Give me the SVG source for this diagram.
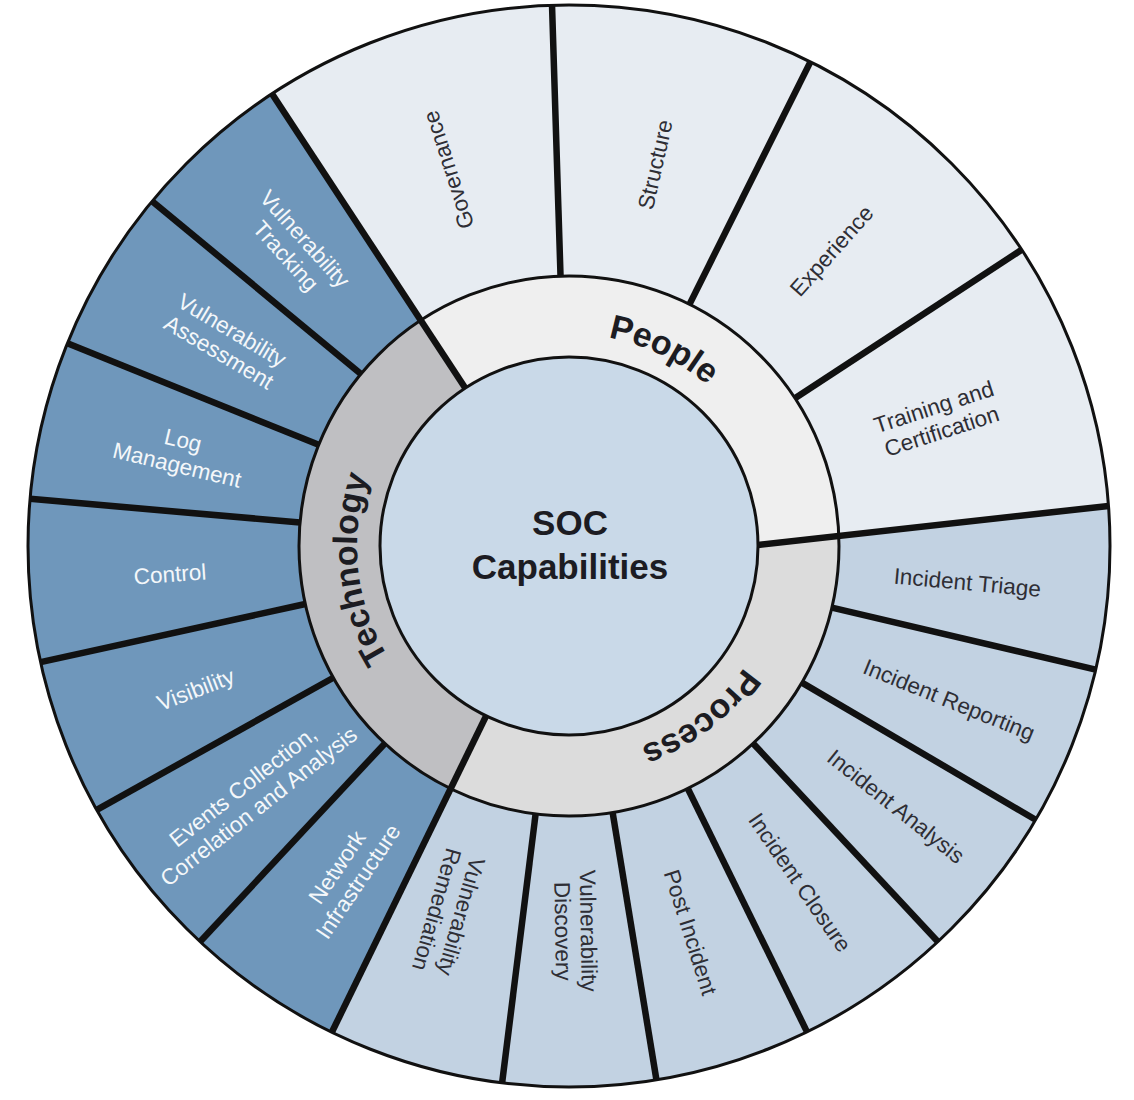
<svg xmlns="http://www.w3.org/2000/svg" width="1134" height="1100" viewBox="0 0 1134 1100">
<style>
.ppl{fill:#e7ecf2}
.prc{fill:#c2d2e2}
.tec{fill:#6f97bb}
.lbl{font-family:"Liberation Sans",Arial,Helvetica,sans-serif;font-size:22.5px;text-anchor:middle}
.dk{fill:#2e2e35}
.wh{fill:#f4f7fa}
.ringlbl{font-family:"Liberation Sans",Arial,Helvetica,sans-serif;font-weight:bold;font-size:34px;fill:#1c1c22}
.div{stroke:#111;stroke-width:6.5;fill:none}
.outline{fill:none;stroke:#111;stroke-width:3}
</style>
<defs>
<path id="arcPeople" d="M396.84,422.29 A212 212 0 0 1 773.09,603.37"/>
<path id="arcTech" d="M555.32,757.56 A212 212 0 0 1 509.5,342.52"/>
<path id="arcProcess" d="M757.93,447.65 A213 213 0 0 1 425.1,703.04"/>
</defs>
<rect width="1134" height="1100" fill="#ffffff"/>

<!-- People segments -->
<g id="governance"><path class="ppl" d="M420.76,320.33 L271.98,93.83 A541 541 0 0 1 552.01,5.27 L560.52,276.13 A270 270 0 0 0 420.76,320.33 Z"/>
<text class="lbl dk" transform="translate(448.25,169.91) rotate(-107.8)" y="8">Governance</text></g>
<g id="structure"><path class="ppl" d="M560.52,276.13 L552.01,5.27 A541 541 0 0 1 810.39,61.84 L689.47,304.37 A270 270 0 0 0 560.52,276.13 Z"/>
<text class="lbl dk" transform="translate(654.96,164.57) rotate(-77.3)" y="8">Structure</text></g>
<g id="experience"><path class="ppl" d="M689.47,304.37 L810.39,61.84 A541 541 0 0 1 1021.69,249.77 L794.93,398.16 A270 270 0 0 0 689.47,304.37 Z"/>
<text class="lbl dk" transform="translate(831.38,250.73) rotate(-48.35)" y="8">Experience</text></g>
<g id="training"><path class="ppl" d="M794.93,398.16 L1021.69,249.77 A541 541 0 0 1 1108.5,505.9 L838.8,536.1 A270 270 0 0 0 794.93,398.16 Z"/>
<text class="lbl dk" transform="translate(937.75,419.03) rotate(-18)"><tspan x="0" y="-5">Training and</tspan><tspan x="0" y="20.5">Certification</tspan></text></g>

<!-- Process segments -->
<g id="incident-triage"><path class="prc" d="M838.8,536.1 L1108.5,505.9 A541 541 0 0 1 1095.71,669.54 L831.87,607.65 A270 270 0 0 0 838.8,536.1 Z"/>
<text class="lbl dk" transform="translate(967.35,582.25) rotate(5.2)" y="8">Incident Triage</text></g>
<g id="incident-reporting"><path class="prc" d="M831.87,607.65 L1095.71,669.54 A541 541 0 0 1 1035.62,819.76 L801.88,682.63 A270 270 0 0 0 831.87,607.65 Z"/>
<text class="lbl dk" transform="translate(949.14,699.59) rotate(22)" y="8">Incident Reporting</text></g>
<g id="incident-analysis"><path class="prc" d="M801.88,682.63 L1035.62,819.76 A541 541 0 0 1 937.96,941.66 L753.14,743.46 A270 270 0 0 0 801.88,682.63 Z"/>
<text class="lbl dk" transform="translate(896.13,806.21) rotate(38.5)" y="8">Incident Analysis</text></g>
<g id="incident-closure"><path class="prc" d="M753.14,743.46 L937.96,941.66 A541 541 0 0 1 807.01,1031.83 L687.78,788.47 A270 270 0 0 0 753.14,743.46 Z"/>
<text class="lbl dk" transform="translate(800.1,882.25) rotate(55.5)" y="8">Incident Closure</text></g>
<g id="post-incident"><path class="prc" d="M687.78,788.47 L807.01,1031.83 A541 541 0 0 1 656.43,1079.89 L612.63,812.45 A270 270 0 0 0 687.78,788.47 Z"/>
<text class="lbl dk" transform="translate(690.79,932.26) rotate(72.5)" y="8">Post Incident</text></g>
<g id="vulnerability-discovery"><path class="prc" d="M612.63,812.45 L656.43,1079.89 A541 541 0 0 1 502.13,1082.85 L535.63,813.93 A270 270 0 0 0 612.63,812.45 Z"/>
<text class="lbl dk" transform="translate(575.72,930.94) rotate(89)"><tspan x="0" y="-5">Vulnerability</tspan><tspan x="0" y="20.5">Discovery</tspan></text></g>
<g id="vulnerability-remediation"><path class="prc" d="M535.63,813.93 L502.13,1082.85 A541 541 0 0 1 331.84,1032.25 L450.64,788.67 A270 270 0 0 0 535.63,813.93 Z"/>
<text class="lbl dk" transform="translate(449,913) rotate(106)"><tspan x="0" y="-5">Vulnerability</tspan><tspan x="0" y="20.5">Remediation</tspan></text></g>

<!-- Technology segments -->
<g id="network-infrastructure"><path class="tec" d="M450.64,788.67 L331.84,1032.25 A541 541 0 0 1 200.04,941.66 L384.86,743.46 A270 270 0 0 0 450.64,788.67 Z"/>
<text class="lbl wh" transform="translate(347.56,874.3) rotate(-56)"><tspan x="0" y="-5">Network</tspan><tspan x="0" y="20.5">Infrastructure</tspan></text></g>
<g id="events-collection"><path class="tec" d="M384.86,743.46 L200.04,941.66 A541 541 0 0 1 96.76,809.93 L333.32,677.72 A270 270 0 0 0 384.86,743.46 Z"/>
<text class="lbl wh" transform="translate(250.74,796.46) rotate(-38.2)"><tspan x="0" y="-5">Events Collection,</tspan><tspan x="0" y="20.5">Correlation and Analysis</tspan></text></g>
<g id="visibility"><path class="tec" d="M333.32,677.72 L96.76,809.93 A541 541 0 0 1 40.62,662.17 L305.3,603.98 A270 270 0 0 0 333.32,677.72 Z"/>
<text class="lbl wh" transform="translate(195.57,689.35) rotate(-21)" y="8">Visibility</text></g>
<g id="control"><path class="tec" d="M305.3,603.98 L40.62,662.17 A541 541 0 0 1 30.06,498.85 L300.03,522.47 A270 270 0 0 0 305.3,603.98 Z"/>
<text class="lbl wh" transform="translate(169.97,573.9) rotate(-4)" y="8">Control</text></g>
<g id="log-management"><path class="tec" d="M300.03,522.47 L30.06,498.85 A541 541 0 0 1 67.4,343.34 L318.66,444.86 A270 270 0 0 0 300.03,522.47 Z"/>
<text class="lbl wh" transform="translate(180.05,452.62) rotate(13.5)"><tspan x="0" y="-5">Log</tspan><tspan x="0" y="20.5">Management</tspan></text></g>
<g id="vulnerability-assessment"><path class="tec" d="M318.66,444.86 L67.4,343.34 A541 541 0 0 1 152.15,201.16 L360.96,373.9 A270 270 0 0 0 318.66,444.86 Z"/>
<text class="lbl wh" transform="translate(225.42,341.14) rotate(30.8)"><tspan x="0" y="-5">Vulnerability</tspan><tspan x="0" y="20.5">Assessment</tspan></text></g>
<g id="vulnerability-tracking"><path class="tec" d="M360.96,373.9 L152.15,201.16 A541 541 0 0 1 271.98,93.83 L420.76,320.33 A270 270 0 0 0 360.96,373.9 Z"/>
<text class="lbl wh" transform="translate(295.39,247.4) rotate(48)"><tspan x="0" y="-5">Vulnerability</tspan><tspan x="0" y="20.5">Tracking</tspan></text></g>

<!-- Category ring -->
<g id="people"><path fill="#efefef" d="M465.24,388.03 L420.76,320.33 A270 270 0 0 1 838.8,536.1 L758,545 A189 189 0 0 0 465.24,388.03 Z"/>
<text class="ringlbl"><textPath href="#arcPeople" startOffset="50%" text-anchor="middle">People</textPath></text></g>
<g id="process"><path fill="#dcdcdc" d="M758,545 L838.8,536.1 A270 270 0 0 1 450.64,788.67 L486.15,715.87 A189 189 0 0 0 758,545 Z"/>
<text class="ringlbl"><textPath href="#arcProcess" startOffset="50%" text-anchor="middle">Process</textPath></text></g>
<g id="technology"><path fill="#bfbfc2" d="M486.15,715.87 L450.64,788.67 A270 270 0 0 1 420.76,320.33 L465.24,388.03 A189 189 0 0 0 486.15,715.87 Z"/>
<text class="ringlbl"><textPath href="#arcTech" startOffset="50%" text-anchor="middle">Technology</textPath></text></g>

<!-- Dividers -->
<g id="connectors" class="div">
<line x1="560.52" y1="276.13" x2="552.01" y2="5.27"/>
<line x1="689.47" y1="304.37" x2="810.39" y2="61.84"/>
<line x1="794.93" y1="398.16" x2="1021.69" y2="249.77"/>
<line x1="758" y1="545" x2="1108.5" y2="505.9"/>
<line x1="831.87" y1="607.65" x2="1095.71" y2="669.54"/>
<line x1="801.88" y1="682.63" x2="1035.62" y2="819.76"/>
<line x1="753.14" y1="743.46" x2="937.96" y2="941.66"/>
<line x1="687.78" y1="788.47" x2="807.01" y2="1031.83"/>
<line x1="612.63" y1="812.45" x2="656.43" y2="1079.89"/>
<line x1="535.63" y1="813.93" x2="502.13" y2="1082.85"/>
<line x1="486.15" y1="715.87" x2="331.84" y2="1032.25"/>
<line x1="384.86" y1="743.46" x2="200.04" y2="941.66"/>
<line x1="333.32" y1="677.72" x2="96.76" y2="809.93"/>
<line x1="305.3" y1="603.98" x2="40.62" y2="662.17"/>
<line x1="300.03" y1="522.47" x2="30.06" y2="498.85"/>
<line x1="318.66" y1="444.86" x2="67.4" y2="343.34"/>
<line x1="360.96" y1="373.9" x2="152.15" y2="201.16"/>
<line x1="465.24" y1="388.03" x2="271.98" y2="93.83"/>
</g>

<g id="outlines">
<circle class="outline" cx="569" cy="546" r="541"/>
<circle class="outline" cx="569" cy="546" r="270" stroke-width="2.5"/>
</g>

<!-- Center -->
<g id="soc-capabilities">
<circle cx="569" cy="546" r="189" fill="#c9d9e8" stroke="#111" stroke-width="3"/>
<text class="ringlbl" text-anchor="middle" x="570" y="535" style="font-size:35px">SOC</text>
<text class="ringlbl" text-anchor="middle" x="570" y="579" style="font-size:35px">Capabilities</text>
</g>
</svg>
